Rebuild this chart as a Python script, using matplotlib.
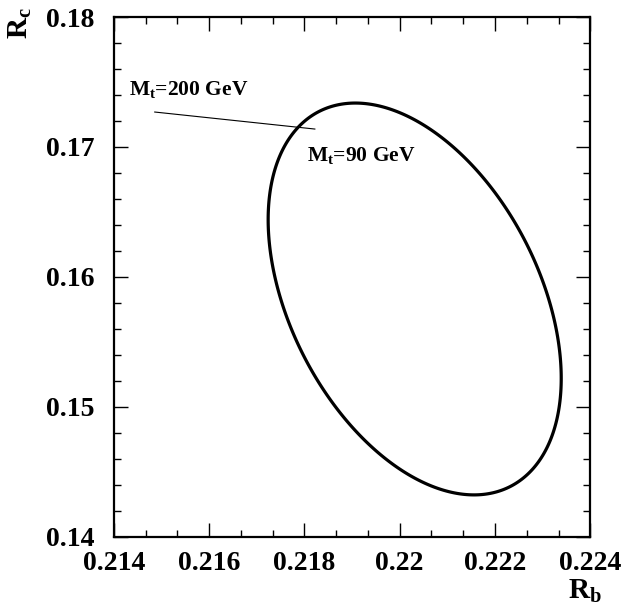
import matplotlib
matplotlib.use("Agg")
import matplotlib.pyplot as plt
import numpy as np
from matplotlib.ticker import MultipleLocator, AutoMinorLocator, FuncFormatter

# ellipse (Rb, Rc plane)
center = [0.220315, 0.158305]   # Rb, Rc
sigma = [0.003075, 0.015075]    # half extents
rho = -0.405                    # tilt / correlation

# line between the two Mt ends
line_rb = [0.21486, 0.21822]
line_rc = [0.17269, 0.17138]

labels = ["M$_\\mathbf{t}$=200 GeV", "M$_\\mathbf{t}$=90 GeV"]
label_pos = [(0.21432, 0.1740), (0.21805, 0.16895)]

plt.rcParams["font.family"] = ["Liberation Serif", "DejaVu Serif"]
plt.rcParams["font.weight"] = "bold"
plt.rcParams["mathtext.fontset"] = "custom"
plt.rcParams["mathtext.rm"] = "Liberation Serif:bold"
plt.rcParams["mathtext.bf"] = "Liberation Serif:bold"
plt.rcParams["mathtext.it"] = "Liberation Serif:bold"

fig = plt.figure(figsize=(6.32, 6.08), dpi=100)
ax = fig.add_axes([0.180, 0.117, 0.754, 0.855])

# contour of the quadratic form gives the ellipse
xx, yy = np.meshgrid(np.linspace(0.214, 0.224, 600), np.linspace(0.14, 0.18, 600))
dx = (xx - center[0]) / sigma[0]
dy = (yy - center[1]) / sigma[1]
q = (dx**2 - 2 * rho * dx * dy + dy**2) / (1 - rho**2)
ax.contour(xx, yy, q, levels=[1.0], colors="black", linewidths=2.3)

ax.plot(line_rb, line_rc, color="black", lw=0.8)

ax.text(label_pos[0][0], label_pos[0][1], labels[0], fontsize=15.5, fontweight="bold")
ax.text(label_pos[1][0], label_pos[1][1], labels[1], fontsize=15.5, fontweight="bold")

ax.set_xlim(0.214, 0.224)
ax.set_ylim(0.14, 0.18)
ax.xaxis.set_major_locator(MultipleLocator(0.002))
ax.xaxis.set_minor_locator(AutoMinorLocator(3))
ax.yaxis.set_major_locator(MultipleLocator(0.01))
ax.yaxis.set_minor_locator(AutoMinorLocator(5))
fmt = FuncFormatter(lambda v, p: "%g" % round(v, 4))
ax.xaxis.set_major_formatter(fmt)
ax.yaxis.set_major_formatter(fmt)

ax.tick_params(which="both", direction="in", top=True, right=True, labelsize=20, width=1)
ax.tick_params(which="major", length=10)
ax.tick_params(which="minor", length=5)
ax.tick_params(axis="x", pad=10)
ax.tick_params(axis="y", pad=14)
for s in ax.spines.values():
    s.set_linewidth(1.6)

fig.text(0.033, 0.988, "R$_\\mathbf{c}$", rotation=90, fontsize=21, fontweight="bold",
         ha="center", va="top")
fig.text(0.925, 0.005, "R$_\\mathbf{b}$", fontsize=21, fontweight="bold",
         ha="center", va="bottom")

fig.savefig("out.png", dpi=100)
